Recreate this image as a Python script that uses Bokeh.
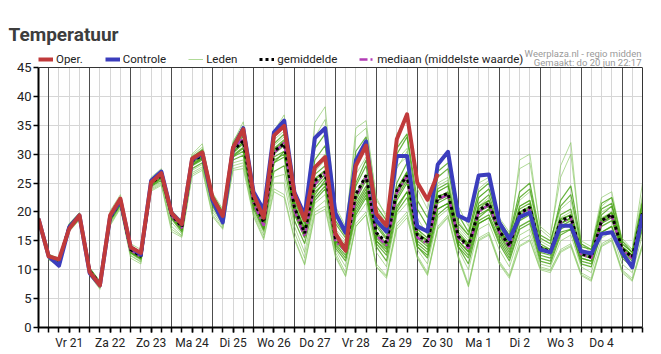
from bokeh.plotting import figure
from bokeh.layouts import column
from bokeh.models import (Range1d, FixedTicker, Grid, Label, Legend, LegendItem,
                          LinearAxis, Span)
from bokeh.embed import file_html
from bokeh.resources import INLINE

# ---- data -------------------------------------------------------------
# time axis: hours after do 20 jun 18:00, 6-hourly steps
uren = list(range(0, 360, 6))
dag_labels = ["Vr 21", "Za 22", "Zo 23", "Ma 24", "Di 25", "Wo 26", "Do 27",
              "Vr 28", "Za 29", "Zo 30", "Ma 1", "Di 2", "Wo 3", "Do 4"]
dag_middag = [18, 42, 66, 90, 114, 138, 162, 186, 210, 234, 258, 282, 306, 330]
middernacht = [6, 30, 54, 78, 102, 126, 150, 174, 198, 222, 246, 270, 294, 318, 342]
y_ticks = [0, 5, 10, 15, 20, 25, 30, 35, 40, 45]

oper = [18.8, 12.3, 11.8, 17.1, 19.4, 9.6, 7.3, 19.4, 22.3, 13.9,
        12.9, 25.1, 26.7, 19.8, 17.9, 29.2, 30.3, 22.5, 19.3, 31.1,
        34.3, 23.0, 19.0, 33.2, 34.9, 23.1, 18.6, 27.7, 29.5, 16.3,
        13.3, 28.0, 31.5, 19.7, 17.6, 32.6, 36.9, 25.1, 22.1, 26.6]

controle = [18.8, 12.3, 10.7, 17.4, 19.4, 9.4, 7.3, 19.2, 22.0, 13.9,
            12.6, 25.4, 27.0, 19.8, 18.0, 29.0, 30.2, 22.0, 18.2, 31.0,
            34.5, 23.5, 20.3, 33.8, 35.8, 23.4, 19.4, 32.8, 34.5, 19.8,
            16.4, 28.9, 32.2, 18.5, 16.6, 29.7, 29.7, 17.5, 16.6, 28.2,
            30.4, 19.4, 18.5, 26.3, 26.5, 18.2, 15.3, 19.1, 19.9, 13.5,
            13.0, 17.6, 17.6, 13.2, 12.8, 16.2, 16.5, 13.0, 10.4, 19.6]

gemiddelde = [18.7, 12.4, 11.6, 17.4, 19.3, 9.8, 7.6, 19.0, 21.8, 13.5,
              12.3, 25.0, 26.3, 19.5, 17.4, 28.8, 29.8, 22.4, 19.1, 30.6,
              32.3, 22.0, 18.2, 30.5, 31.8, 20.8, 16.3, 25.4, 26.9, 15.5,
              13.8, 23.1, 26.3, 16.4, 14.7, 23.7, 26.3, 16.0, 14.9, 22.5,
              23.2, 15.8, 14.1, 20.2, 21.5, 16.8, 14.1, 19.8, 20.8, 13.9,
              13.1, 18.5, 19.2, 12.8, 12.2, 18.5, 19.6, 13.6, 12.2, 19.8]

mediaan = [18.7, 12.4, 11.6, 17.4, 19.3, 9.8, 7.6, 19.0, 21.8, 13.4,
           12.2, 25.0, 26.4, 19.4, 17.2, 28.8, 29.9, 22.2, 18.8, 30.8,
           32.8, 21.6, 17.6, 30.2, 32.0, 20.3, 15.7, 24.8, 26.8, 14.9,
           13.3, 22.6, 26.0, 16.0, 14.2, 23.3, 26.2, 15.6, 14.5, 22.2,
           23.0, 15.5, 13.7, 20.0, 21.3, 16.5, 14.0, 19.6, 20.5, 13.7,
           13.0, 18.2, 19.0, 12.7, 12.0, 18.3, 19.3, 13.5, 12.0, 19.5]

lid01 = [19.2, 12.6, 11.9, 18.0, 19.8, 10.3, 7.9, 19.8, 22.6, 14.2, 13.0, 25.8, 27.2, 20.0, 18.2,
         29.8, 31.2, 23.0, 20.2, 32.0, 35.6, 23.5, 20.0, 34.0, 36.8, 23.5, 19.5, 35.5, 38.2, 20.5,
         17.0, 34.5, 35.8, 22.0, 19.5, 29.0, 31.0, 19.0, 16.0, 25.0, 26.0, 17.0, 15.0, 21.0, 22.5,
         17.0, 14.5, 21.0, 22.0, 14.0, 13.0, 19.0, 20.0, 13.0, 12.5, 19.0, 20.0, 14.0, 12.5, 20.0]
lid02 = [18.2, 11.8, 10.8, 16.8, 18.8, 9.2, 6.8, 17.8, 20.8, 12.4, 11.3, 23.8, 24.8, 17.0, 15.8,
         26.5, 27.5, 19.5, 17.2, 27.5, 28.0, 19.5, 15.5, 24.0, 23.0, 15.5, 11.0, 20.0, 21.0, 12.5,
         9.0, 18.0, 20.0, 11.0, 9.0, 18.0, 20.0, 12.5, 9.5, 17.5, 19.5, 12.5, 7.5, 15.5, 16.5,
         11.5, 9.0, 15.0, 16.0, 10.5, 10.0, 13.5, 14.5, 9.5, 8.5, 14.5, 15.5, 10.0, 8.5, 14.5]
lid03 = [18.9, 12.5, 11.7, 17.6, 19.6, 10.0, 7.7, 19.3, 22.2, 13.8, 12.6, 25.4, 26.9, 19.8, 17.8,
         29.2, 30.4, 22.8, 19.6, 31.4, 33.8, 22.5, 19.0, 32.5, 34.0, 22.0, 18.0, 28.0, 30.0, 17.0,
         15.0, 26.5, 29.5, 18.5, 16.0, 27.5, 30.5, 18.0, 16.5, 24.5, 25.5, 17.5, 15.5, 22.5, 24.0,
         18.0, 15.5, 22.0, 23.5, 15.0, 14.0, 20.5, 22.0, 13.5, 13.0, 20.0, 21.0, 14.5, 13.0, 21.0]
lid04 = [18.6, 12.3, 11.5, 17.3, 19.2, 9.7, 7.5, 18.9, 21.6, 13.4, 12.2, 24.9, 26.2, 19.6, 17.4,
         28.6, 29.6, 22.2, 19.0, 30.2, 31.8, 21.8, 18.0, 30.0, 31.5, 20.5, 16.5, 24.5, 26.5, 15.0,
         13.5, 22.0, 25.5, 16.0, 14.0, 22.5, 25.5, 15.5, 14.5, 22.0, 23.0, 15.5, 14.0, 20.0, 21.0,
         16.5, 14.0, 19.5, 20.5, 13.5, 13.0, 18.0, 19.0, 12.5, 12.0, 18.0, 19.5, 13.5, 12.0, 19.5]
lid05 = [18.5, 12.2, 11.3, 17.0, 19.0, 9.5, 7.3, 18.6, 21.4, 13.0, 11.9, 24.5, 25.8, 19.2, 17.0,
         28.0, 29.0, 21.8, 18.5, 29.5, 30.5, 21.0, 17.5, 28.5, 29.5, 19.5, 15.5, 22.5, 24.5, 14.5,
         12.5, 20.5, 23.5, 14.5, 12.5, 20.5, 23.5, 14.5, 13.0, 20.5, 21.5, 14.5, 12.5, 18.5, 19.5,
         15.5, 12.5, 18.5, 19.5, 12.5, 12.0, 17.0, 18.0, 12.0, 11.5, 17.5, 18.5, 13.0, 11.5, 18.5]
lid06 = [18.8, 12.4, 11.6, 17.5, 19.4, 9.9, 7.7, 19.1, 21.9, 13.6, 12.4, 25.1, 26.5, 19.5, 17.5,
         29.0, 30.0, 22.5, 19.2, 31.0, 33.0, 22.5, 18.8, 31.5, 33.0, 21.5, 17.5, 27.0, 29.0, 16.5,
         14.5, 29.0, 32.0, 20.5, 18.0, 33.5, 36.0, 24.0, 20.5, 28.0, 30.0, 21.0, 17.5, 25.0, 26.0,
         19.0, 16.5, 27.5, 28.5, 17.5, 16.0, 26.0, 30.0, 15.0, 14.0, 22.5, 23.5, 15.0, 13.5, 23.0]
lid07 = [18.7, 12.5, 11.8, 17.2, 19.1, 9.6, 7.4, 18.7, 21.5, 13.2, 12.0, 24.7, 26.0, 19.0, 16.9,
         28.4, 29.4, 22.0, 18.8, 30.5, 32.0, 21.5, 17.8, 29.5, 30.5, 20.0, 16.0, 23.5, 25.0, 15.0,
         13.0, 21.5, 24.5, 15.0, 13.0, 21.0, 23.5, 14.0, 12.5, 20.5, 21.5, 14.0, 12.0, 18.0, 19.0,
         15.0, 12.0, 17.5, 18.5, 12.0, 11.5, 16.5, 17.0, 11.5, 11.0, 16.5, 17.5, 12.5, 11.0, 17.5]
lid08 = [19.0, 12.2, 11.4, 17.8, 19.7, 10.1, 7.8, 19.5, 22.4, 14.0, 12.8, 25.5, 27.0, 19.9, 17.9,
         29.4, 30.6, 22.9, 19.8, 31.6, 34.5, 23.0, 19.5, 33.0, 35.0, 23.0, 19.0, 31.0, 33.5, 18.5,
         16.0, 30.5, 33.0, 21.0, 18.5, 31.0, 33.5, 22.0, 19.0, 27.0, 28.5, 19.5, 16.5, 23.5, 25.0,
         18.5, 16.0, 23.5, 25.0, 16.0, 15.0, 21.0, 23.0, 14.0, 13.5, 21.5, 22.5, 15.0, 13.0, 22.0]
lid09 = [18.4, 12.0, 11.0, 16.7, 18.7, 9.3, 7.0, 18.2, 21.0, 12.8, 11.6, 24.2, 25.2, 18.2, 16.2,
         27.2, 28.2, 20.5, 17.8, 28.5, 29.0, 20.0, 16.5, 26.0, 26.5, 17.5, 13.0, 21.5, 23.0, 13.5,
         10.5, 19.0, 21.5, 13.0, 10.5, 19.5, 21.5, 13.5, 11.0, 19.0, 20.5, 13.5, 10.0, 17.0, 18.0,
         13.5, 10.5, 16.0, 17.0, 11.0, 10.5, 15.0, 16.0, 10.5, 9.5, 15.5, 16.5, 11.0, 9.5, 16.0]
lid10 = [18.7, 12.4, 11.6, 17.4, 19.3, 9.8, 7.6, 19.0, 21.8, 13.5, 12.3, 25.0, 26.3, 19.5, 17.3,
         28.8, 29.9, 22.4, 19.1, 30.8, 32.5, 22.0, 18.3, 30.5, 32.0, 21.0, 17.0, 25.5, 27.0, 15.5,
         14.0, 23.0, 26.5, 16.5, 14.5, 23.5, 26.5, 16.0, 15.0, 22.5, 23.5, 16.0, 14.5, 20.5, 22.0,
         17.0, 14.5, 20.0, 21.0, 14.0, 13.5, 18.5, 19.5, 13.0, 12.5, 18.5, 20.0, 14.0, 12.5, 20.0]
lid11 = [18.9, 12.7, 12.0, 17.9, 19.9, 10.4, 8.0, 20.2, 23.0, 14.5, 13.5, 26.0, 27.5, 20.3, 18.5,
         30.0, 31.8, 23.3, 20.5, 32.3, 34.8, 23.8, 20.5, 33.5, 35.5, 23.8, 19.8, 33.0, 36.0, 21.0,
         17.5, 33.0, 34.5, 22.5, 19.0, 28.0, 29.5, 17.5, 14.0, 23.5, 24.5, 18.5, 16.0, 24.0, 25.5,
         18.0, 15.0, 29.0, 30.0, 17.0, 15.5, 28.0, 32.0, 14.5, 13.0, 21.0, 22.5, 15.5, 13.5, 25.0]
lid12 = [18.3, 11.7, 10.6, 16.6, 18.6, 9.0, 6.6, 17.6, 20.6, 12.0, 11.0, 23.6, 24.6, 16.6, 15.6,
         26.2, 27.2, 19.2, 17.0, 27.2, 27.5, 19.2, 15.2, 23.5, 22.5, 15.2, 10.8, 19.5, 20.5, 12.2,
         8.8, 17.5, 19.5, 10.5, 8.8, 17.5, 19.5, 12.2, 9.2, 17.2, 19.2, 12.2, 7.2, 15.2, 16.2,
         11.2, 8.8, 14.2, 15.2, 10.2, 9.8, 13.2, 14.2, 9.2, 8.2, 14.2, 15.2, 9.8, 8.2, 14.2]
lid13 = [18.6, 12.1, 11.2, 17.1, 19.2, 9.7, 7.5, 19.2, 22.0, 13.7, 12.5, 25.2, 26.6, 19.7, 17.6,
         28.9, 29.9, 22.6, 19.4, 30.9, 33.2, 22.8, 19.2, 31.8, 33.5, 21.8, 18.0, 26.5, 28.0, 16.0,
         13.8, 24.5, 28.0, 17.5, 15.2, 25.0, 28.5, 17.0, 15.5, 23.5, 24.5, 16.5, 14.5, 21.5, 23.0,
         17.5, 14.8, 21.0, 22.0, 14.5, 13.5, 19.5, 20.5, 13.0, 12.5, 19.5, 21.0, 14.0, 12.5, 21.5]
lid14 = [18.5, 12.3, 11.5, 17.2, 19.1, 9.6, 7.4, 18.8, 21.6, 13.3, 12.1, 24.8, 26.1, 19.3, 17.1,
         28.2, 29.2, 22.0, 18.7, 29.8, 31.2, 21.2, 17.2, 29.0, 30.0, 19.8, 15.8, 23.0, 25.5, 14.2,
         12.0, 20.0, 23.0, 15.0, 13.5, 22.0, 25.0, 15.0, 13.5, 21.5, 22.5, 15.0, 13.0, 19.5, 20.5,
         16.0, 13.0, 19.0, 20.0, 13.0, 12.5, 17.5, 18.5, 12.0, 11.5, 18.0, 19.0, 13.5, 12.0, 19.0]
lid15 = [18.8, 12.6, 11.8, 17.6, 19.5, 10.0, 7.6, 19.4, 22.1, 13.9, 12.7, 25.3, 26.8, 19.9, 17.7,
         29.3, 30.3, 22.7, 19.5, 31.2, 33.6, 22.3, 18.5, 31.0, 32.5, 21.0, 17.0, 25.0, 26.5, 15.8,
         14.2, 25.0, 29.0, 18.0, 15.5, 24.0, 27.0, 16.5, 15.0, 24.0, 25.0, 16.0, 14.0, 21.0, 22.0,
         17.0, 14.2, 20.5, 21.5, 14.0, 13.0, 18.0, 19.0, 13.0, 12.5, 18.5, 19.5, 14.0, 12.5, 20.5]
lid16 = [18.6, 12.2, 11.4, 17.0, 19.0, 9.5, 7.2, 18.5, 21.3, 13.1, 12.0, 24.6, 25.9, 19.1, 16.8,
         28.1, 29.3, 21.6, 18.4, 29.6, 31.0, 21.0, 17.0, 28.5, 30.5, 20.5, 16.2, 24.0, 26.0, 14.8,
         13.2, 21.0, 24.0, 15.5, 13.8, 23.0, 26.0, 15.5, 14.0, 22.0, 22.8, 15.0, 13.2, 19.0, 20.5,
         16.2, 13.5, 19.0, 20.0, 13.5, 12.8, 18.0, 18.8, 12.5, 12.0, 18.2, 19.2, 13.2, 11.8, 19.5]
lid17 = [18.4, 12.1, 11.2, 16.9, 18.9, 9.4, 7.1, 18.4, 21.2, 12.9, 11.8, 24.4, 25.5, 18.8, 16.5,
         27.5, 28.5, 21.0, 18.0, 29.0, 29.8, 20.5, 16.8, 27.0, 28.0, 18.5, 14.5, 22.0, 24.0, 13.8,
         11.5, 19.5, 22.5, 14.0, 11.5, 20.0, 22.5, 14.0, 12.0, 19.5, 21.0, 14.0, 11.0, 18.0, 19.0,
         14.5, 11.5, 17.0, 18.0, 11.5, 11.0, 16.0, 17.0, 11.0, 10.5, 16.5, 17.5, 12.0, 10.5, 17.0]
lid18 = [19.0, 12.5, 11.9, 17.7, 19.6, 10.2, 7.9, 19.6, 22.4, 14.1, 13.0, 25.6, 27.0, 20.1, 18.0,
         29.5, 30.8, 23.0, 20.0, 31.8, 34.8, 23.2, 19.8, 33.0, 35.0, 22.5, 18.5, 29.0, 31.5, 18.0,
         15.5, 28.0, 31.0, 19.5, 17.0, 30.0, 33.0, 20.5, 17.5, 26.0, 27.5, 18.0, 16.0, 22.5, 24.0,
         18.0, 15.5, 22.5, 24.0, 15.5, 14.5, 22.0, 24.5, 14.5, 13.5, 20.5, 21.5, 14.5, 13.0, 21.5]
lid19 = [18.7, 12.3, 11.6, 17.3, 19.3, 9.8, 7.6, 19.0, 21.7, 13.5, 12.3, 25.0, 26.4, 19.6, 17.4,
         28.7, 29.7, 22.3, 19.0, 30.4, 32.2, 22.2, 18.5, 30.8, 32.2, 21.2, 17.2, 25.8, 27.2, 15.8,
         13.8, 22.5, 26.0, 16.2, 14.2, 23.8, 26.8, 16.2, 15.2, 22.8, 23.2, 15.8, 14.2, 20.2, 21.5,
         16.8, 14.2, 19.8, 20.8, 13.8, 13.2, 18.8, 19.5, 12.8, 12.2, 18.8, 19.8, 13.8, 12.2, 19.8]
lid20 = [18.3, 11.9, 10.9, 16.8, 18.8, 9.1, 6.9, 18.0, 20.9, 12.5, 11.4, 24.0, 25.0, 17.5, 15.9,
         26.8, 27.8, 20.0, 17.5, 28.0, 28.5, 19.8, 16.0, 25.0, 25.0, 16.5, 12.0, 20.5, 22.0, 13.0,
         9.5, 17.5, 19.5, 10.5, 8.5, 17.0, 19.0, 12.0, 9.0, 17.0, 19.0, 12.0, 7.0, 15.0, 16.0,
         11.0, 8.5, 14.0, 15.0, 10.0, 9.5, 13.0, 14.0, 9.0, 8.0, 14.0, 15.0, 9.5, 8.0, 14.0]

leden_licht = [lid01, lid02, lid06, lid11, lid12, lid20, lid09, lid03]
leden_donker = [lid04, lid05, lid07, lid08, lid10, lid13, lid14, lid15, lid16, lid17, lid18, lid19]

# ---- styles -------------------------------------------------------------
FONT = "Roboto"
S_OPER = dict(line_color="#c03a3b", line_width=4, line_join="round")
S_CTRL = dict(line_color="#3b3dbd", line_width=4, line_join="round")
S_LICHT = dict(line_color="#86c660", line_alpha=0.65, line_width=1)
S_DONKER = dict(line_color="#45a012", line_alpha=0.8, line_width=1.2)
S_GEM = dict(line_color="black", line_width=3, line_dash="3 3")
S_MED = dict(line_color="#b23db5", line_width=2.5, line_dash="8 3 2 3")

# ---- header with the title ---------------------------------------------
kop = figure(width=661, height=46, output_backend="svg", toolbar_location=None,
             x_range=Range1d(0, 661), y_range=Range1d(0, 46),
             x_axis_location=None, y_axis_location=None,
             min_border_left=0, min_border_right=0, min_border_top=0,
             min_border_bottom=0, outline_line_color=None)
kop.frame_align = False
kop.xgrid.visible = False
kop.ygrid.visible = False
kop.add_layout(Label(x=8, y=12, x_units="screen", y_units="screen",
                     text="Temperatuur", text_font=FONT, text_font_size="19px",
                     text_font_style="bold", text_color="#3d3d3d",
                     text_baseline="alphabetic"))

# ---- main chart (frame reaches up into the legend row) -------------------
# frame: canvas y 46..327 -> 281 px; 45 degrees take 260 px
Y_TOP = 45 * 281 / 260
p = figure(width=661, height=308, output_backend="svg", toolbar_location=None,
           x_range=Range1d(0, 354), y_range=Range1d(0, Y_TOP),
           min_border_left=38, min_border_right=19, min_border_top=0,
           min_border_bottom=27, outline_line_color=None)
p.frame_align = False

p.xgrid.ticker = FixedTicker(ticks=uren)
p.xgrid.grid_line_color = "#d6d6d6"
p.xgrid.cross_bounds = (0, 45)
p.ygrid.ticker = FixedTicker(ticks=y_ticks)
p.ygrid.grid_line_color = "#d6d6d6"
p.add_layout(Grid(dimension=0, ticker=FixedTicker(ticks=middernacht),
                  grid_line_color="#4d4d4d", grid_line_width=1,
                  cross_bounds=(0, 45)))

p.xaxis.ticker = FixedTicker(ticks=dag_middag, minor_ticks=uren)
p.xaxis.major_label_overrides = {h: lab for h, lab in zip(dag_middag, dag_labels)}
p.xaxis.axis_line_width = 2
p.xaxis.axis_line_color = "black"
p.xaxis.major_tick_in = 0
p.xaxis.major_tick_out = 5
p.xaxis.minor_tick_in = 0
p.xaxis.minor_tick_out = 5
p.xaxis.major_tick_line_width = 1.5
p.xaxis.minor_tick_line_width = 1.5
p.xaxis.major_tick_line_color = "black"
p.xaxis.minor_tick_line_color = "black"
p.xaxis.major_label_standoff = 3
p.xaxis.major_label_text_font = FONT
p.xaxis.major_label_text_font_size = "12px"
p.xaxis.major_label_text_color = "#222222"

p.yaxis.ticker = FixedTicker(ticks=y_ticks)
p.yaxis.bounds = (0, 45)
p.yaxis.axis_line_width = 2
p.yaxis.axis_line_color = "black"
p.yaxis.major_tick_in = 0
p.yaxis.major_tick_out = 5
p.yaxis.major_tick_line_width = 1.5
p.yaxis.major_tick_line_color = "black"
p.yaxis.minor_tick_line_color = None
p.yaxis.major_label_standoff = 2
p.yaxis.major_label_text_font = FONT
p.yaxis.major_label_text_font_size = "13px"
p.yaxis.major_label_text_color = "#222222"

# frame border: right edge and top edge at 45
rand = LinearAxis(bounds=(0, 45), ticker=FixedTicker(ticks=[]),
                  axis_line_color="#333333", axis_line_width=1,
                  major_tick_line_color=None, minor_tick_line_color=None,
                  major_label_text_font_size="0px")
p.add_layout(rand, "right")
p.add_layout(Span(location=45, dimension="width", line_color="#333333",
                  line_width=1))

r_licht = p.multi_line(xs=[uren] * len(leden_licht), ys=leden_licht, **S_LICHT)
r_donker = p.multi_line(xs=[uren] * len(leden_donker), ys=leden_donker, **S_DONKER)
r_med = p.line(uren, mediaan, **S_MED)
r_gem = p.line(uren, gemiddelde, **S_GEM)
r_ctrl = p.line(uren, controle, **S_CTRL)
r_oper = p.line(uren[:len(oper)], oper, **S_OPER)

legend = Legend(items=[LegendItem(label="Oper.", renderers=[r_oper]),
                       LegendItem(label="Controle", renderers=[r_ctrl]),
                       LegendItem(label="Leden", renderers=[r_licht]),
                       LegendItem(label="gemiddelde", renderers=[r_gem]),
                       LegendItem(label="mediaan (middelste waarde)", renderers=[r_med])],
                orientation="horizontal", location=(0, 261),
                glyph_width=15, glyph_height=12, label_height=12,
                label_standoff=3, spacing=22, padding=0, margin=0,
                border_line_alpha=0, background_fill_alpha=0,
                label_text_font=FONT, label_text_font_size="11.5px",
                label_text_color="#222222")
p.add_layout(legend)

p.add_layout(Label(x=603, y=274.5, x_units="screen", y_units="screen",
                   text="Weerplaza.nl - regio midden", text_font=FONT,
                   text_font_size="9.5px", text_color="#9a9a9a",
                   text_align="right", text_baseline="alphabetic"))
p.add_layout(Label(x=603, y=265.5, x_units="screen", y_units="screen",
                   text="Gemaakt: do 20 jun 22:17", text_font=FONT,
                   text_font_size="9.5px", text_color="#9a9a9a",
                   text_align="right", text_baseline="alphabetic"))

pagina = column(kop, p, spacing=0)
open("out.html", "w").write(file_html(pagina, INLINE))
